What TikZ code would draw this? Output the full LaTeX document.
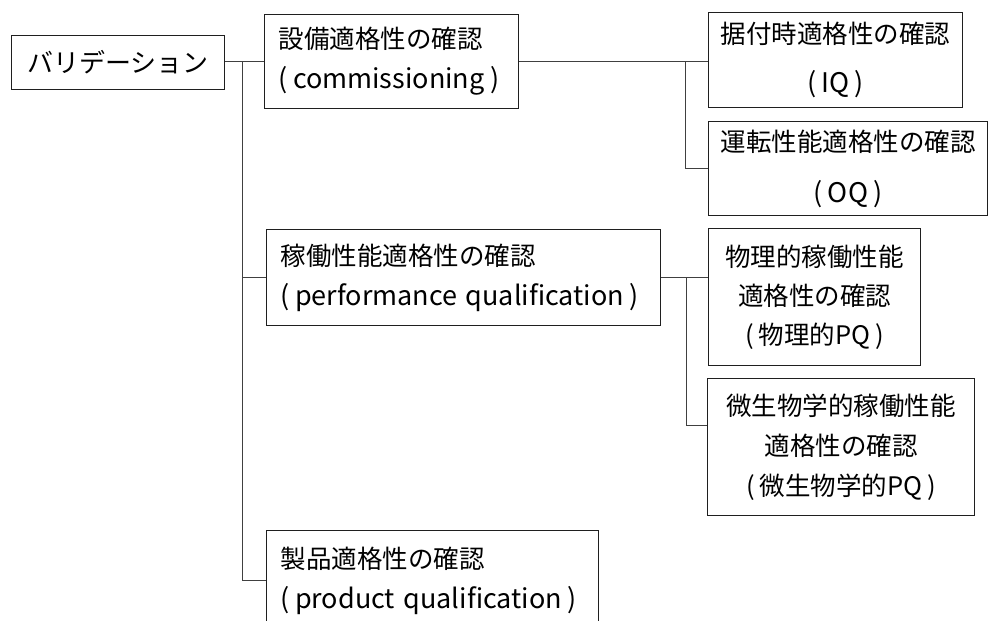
\documentclass[tikz,border=0pt]{standalone}
\usepackage{fontspec}
\setmainfont{Noto Sans CJK JP}
\newcommand\lpar{(\kern0.2em}
\newcommand\rpar{\kern0.2em)}
\newcommand\lat[1]{\mbox{\fontsize{27}{40}\selectfont\lpar #1\rpar}}
\begin{document}
\begin{tikzpicture}[x=1pt,y=-1pt,
  box/.style={draw=black!88, line width=1.1pt, inner ysep=0pt, anchor=north west,
    font=\fontsize{25.5}{40}\selectfont},
  lbox/.style={box, align=left, inner xsep=14pt},
  cbox/.style={box, align=center, inner xsep=0pt},
  link/.style={draw=black!75, line width=0.9pt}]
\useasboundingbox (0,0) rectangle (988,621);
\clip (0,0) rectangle (988,621);
\fill[white] (0,0) rectangle (988,621);

\node[cbox, text width=213pt, minimum height=54pt, font=\fontsize{26}{40}\selectfont] (root) at (11,35) {バリデーション};
\node[lbox, text width=226pt, minimum height=94pt] (A) at (264,14)
  {設備適格性の確認\\\lat{commissioning}};
\node[cbox, text width=254pt, minimum height=95pt, font=\fontsize{25.5}{49}\selectfont] (IQ) at (708,12)
  {据付時適格性の確認\\\lat{IQ}};
\node[cbox, text width=279pt, minimum height=94pt, font=\fontsize{25.5}{51}\selectfont] (OQ) at (708,121)
  {運転性能適格性の確認\\\lat{OQ}};
\node[lbox, text width=366pt, minimum height=96pt] (B) at (266,229)
  {稼働性能適格性の確認\\\lat{performance qualification}};
\node[cbox, text width=212pt, minimum height=137pt, font=\fontsize{25.5}{39}\selectfont] (P) at (708,228)
  {物理的稼働性能\\適格性の確認\\\mbox{\lpar 物理的PQ\rpar}};
\node[cbox, text width=267pt, minimum height=137pt] (M) at (707,378)
  {微生物学的稼働性能\\適格性の確認\\\mbox{\lpar 微生物学的PQ\rpar}};
\node[lbox, text width=304pt, minimum height=100pt] (C) at (266,530)
  {製品適格性の確認\\\lat{product qualification}};

\coordinate (t0) at (242,61);
\coordinate (j1) at (685,61);
\coordinate (j2) at (686,277);
\draw[link] (root.east |- t0) -- (A.west |- t0);
\draw[link] (t0) |- (C.west);
\draw[link] (t0 |- B.west) -- (B.west);
\draw[link] (A.east |- t0) -- (IQ.west |- t0);
\draw[link] (j1) |- (OQ.west);
\draw[link] (B.east |- j2) -- (P.west |- j2);
\draw[link] (j2) |- ([yshift=22pt]M.west);
\end{tikzpicture}
\end{document}
